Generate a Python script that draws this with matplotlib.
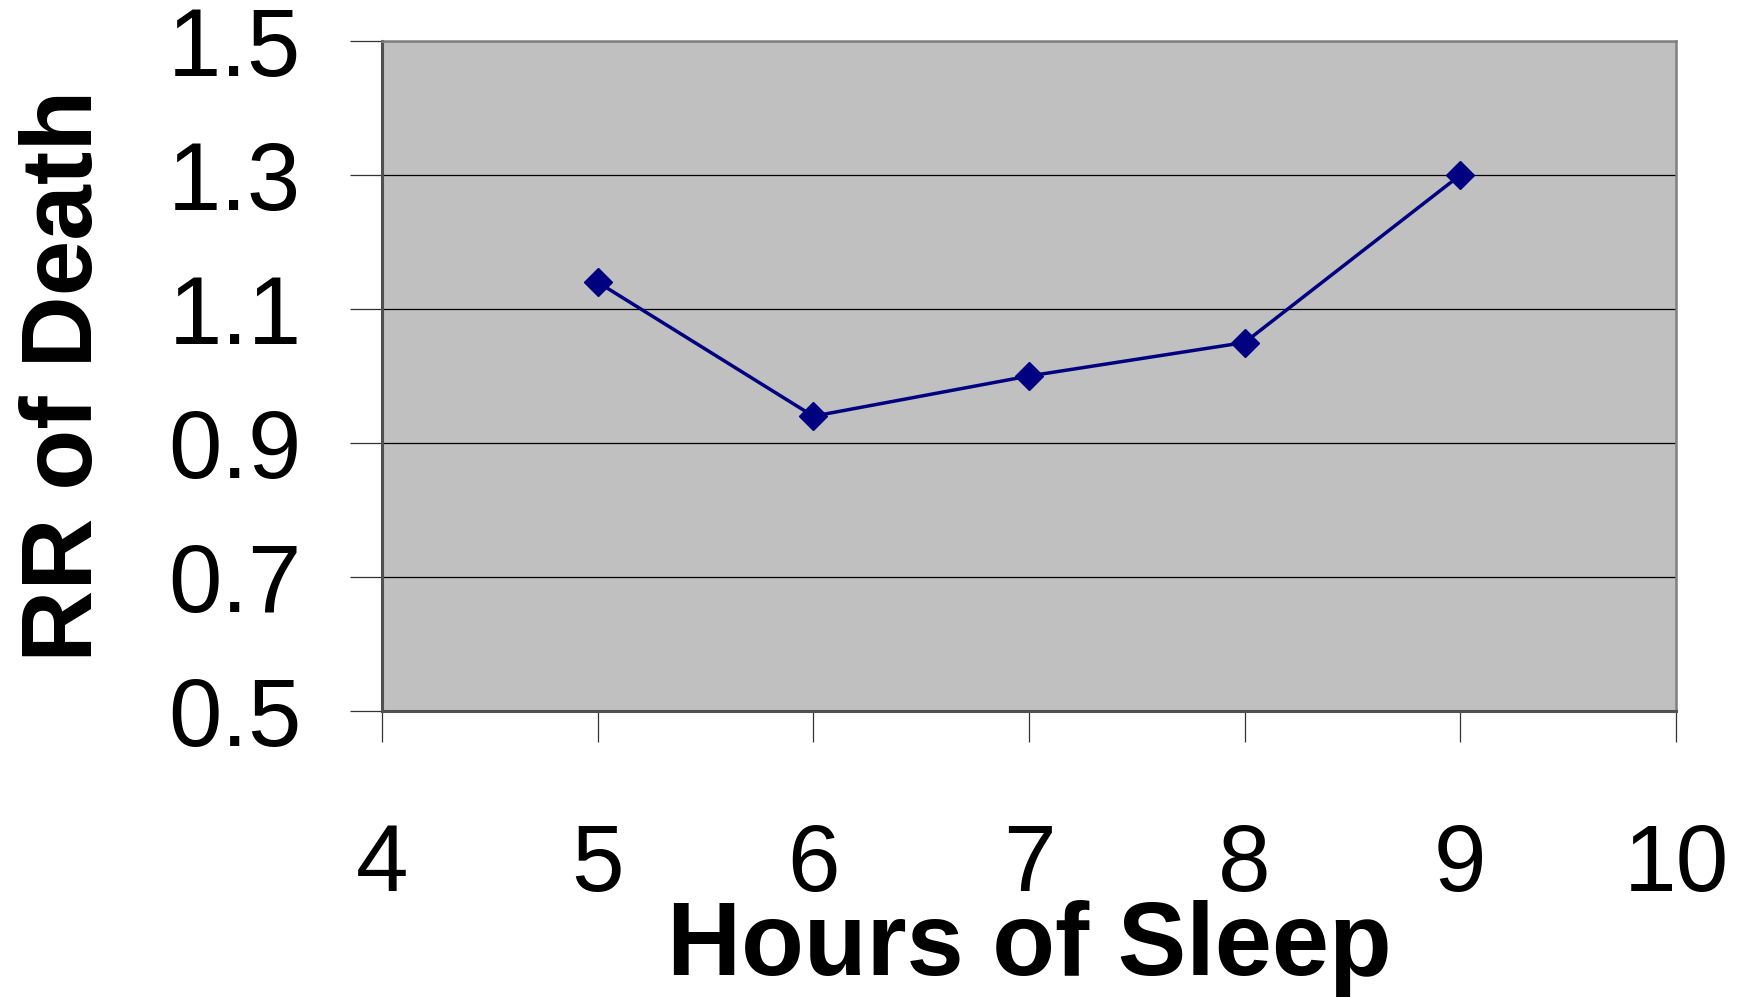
import matplotlib
matplotlib.use("Agg")
import matplotlib.pyplot as plt

hours = [5, 6, 7, 8, 9]
rr_death = [1.14, 0.94, 1.0, 1.05, 1.3]
x_ticks = [4, 5, 6, 7, 8, 9, 10]
y_ticks = [0.5, 0.7, 0.9, 1.1, 1.3, 1.5]
y_tick_labels = ["0.5", "0.7", "0.9", "1.1", "1.3", "1.5"]
x_label = "Hours of Sleep"
y_label = "RR of Death"

plt.rcParams['font.family'] = ['Liberation Sans', 'DejaVu Sans']

fig = plt.figure(figsize=(17.52, 9.97), dpi=100)
ax = fig.add_axes([382/1752, 1 - 711/997, (1676-382)/1752, (711-41)/997])
ax.set_facecolor('#C0C0C0')

ax.plot(hours, rr_death, color='#000080', linewidth=2.5, marker='D',
        markersize=14.5, markerfacecolor='#000080', markeredgecolor='#000080', zorder=3)

ax.set_xlim(4, 10)
ax.set_ylim(0.5, 1.5)
ax.set_xticks(x_ticks)
ax.set_yticks(y_ticks)
ax.set_yticklabels(y_tick_labels)
ax.yaxis.grid(True, color='black', linewidth=0.9)
ax.set_axisbelow(True)

for side in ['top', 'right']:
    ax.spines[side].set_color('#808080')
    ax.spines[side].set_linewidth(1.8)
for side in ['left', 'bottom']:
    ax.spines[side].set_color('#505050')
    ax.spines[side].set_linewidth(2.2)

ax.tick_params(axis='y', direction='out', length=23, width=0.9, color='#333333',
               pad=35, labelsize=69)
ax.tick_params(axis='x', direction='out', length=22, width=0.9, color='#333333',
               pad=58, labelsize=68)

ax.set_xlabel(x_label, fontsize=74, fontweight='bold', labelpad=-8)
ax.set_ylabel(y_label, fontsize=72, fontweight='bold', labelpad=40)

fig.savefig('out.png', dpi=100, facecolor='white')
